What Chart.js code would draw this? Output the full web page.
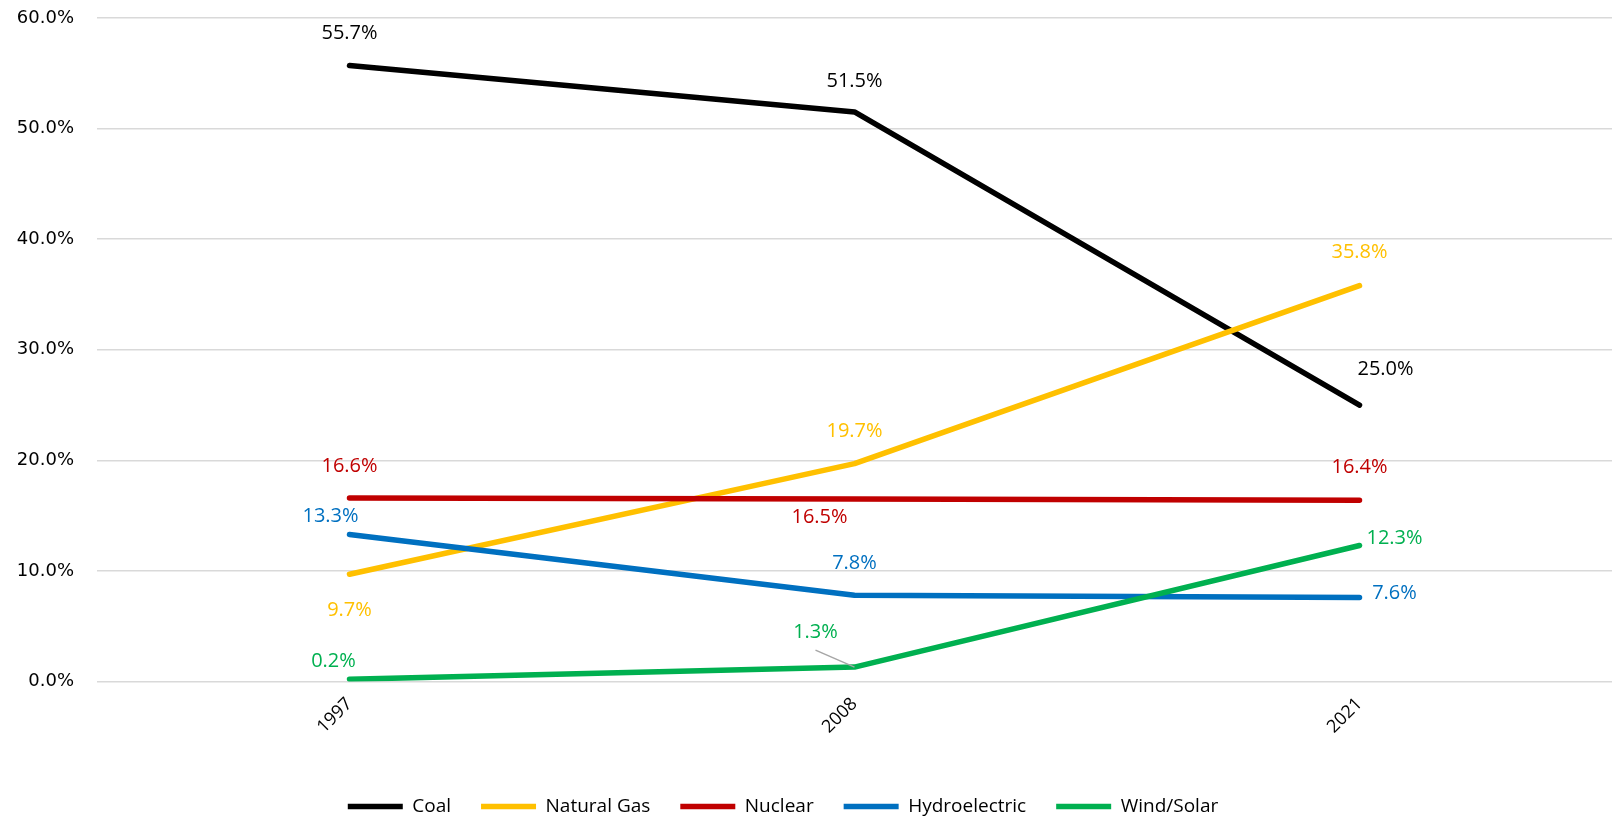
<!DOCTYPE html>
<html>
<head>
<meta charset="utf-8">
<script src="https://cdn.jsdelivr.net/npm/chart.js@4.4.1/dist/chart.umd.min.js"></script>
<style>
    html, body { margin: 0; padding: 0; background: #fff; }
    #wrap { position: relative; width: 1615px; height: 820px; }
</style>
</head>
<body>
<div id="wrap"><canvas id="chart"></canvas></div>
<script>
// Données
var years = ['1997', '2008', '2021'];
var coal = [55.7, 51.5, 25.0];
var naturalGas = [9.7, 19.7, 35.8];
var nuclear = [16.6, 16.5, 16.4];
var hydroelectric = [13.3, 7.8, 7.6];
var windSolar = [0.2, 1.3, 12.3];
var yTicks = [0, 10, 20, 30, 40, 50, 60];

// Plugin simple pour les étiquettes de données
var valueLabels = {
    id: 'valueLabels',
    afterLayout: function(chart) {
        // décaler la légende comme dans l'original
        var lg = chart.legend;
        if (lg) {
            lg.left -= 23; lg.right -= 23;
            lg.top += 10; lg.bottom += 10;
        }
    },
    afterDatasetsDraw: function(chart) {
        var ctx = chart.ctx;
        chart.data.datasets.forEach(function(ds, i) {
            var meta = chart.getDatasetMeta(i);
            meta.data.forEach(function(pt, j) {
                var off = ds.labelOffsets[j];
                var x = pt.x + off[0];
                var y = pt.y + off[1];
                ctx.save();
                if (ds.leader && ds.leader[j]) {
                    ctx.strokeStyle = '#a6a6a6';
                    ctx.lineWidth = 1.5;
                    ctx.beginPath();
                    ctx.moveTo(x, y + 18);
                    ctx.lineTo(pt.x, pt.y);
                    ctx.stroke();
                }
                ctx.font = '20px "Open Sans"';
                ctx.fillStyle = ds.borderColor;
                ctx.textAlign = 'center';
                ctx.textBaseline = 'middle';
                ctx.fillText(ds.data[j].toFixed(1) + '%', x, y);
                ctx.restore();
            });
        });
    }
};

function makeSet(label, data, color, offsets, order, leader) {
    return {
        label: label,
        data: data,
        borderColor: color,
        backgroundColor: color,
        borderWidth: 5.5,
        borderCapStyle: 'round',
        borderJoinStyle: 'round',
        pointRadius: 0,
        pointHoverRadius: 0,
        tension: 0,
        order: order,
        labelOffsets: offsets,
        leader: leader
    };
}

var ctx = document.getElementById('chart').getContext('2d');
new Chart(ctx, {
    type: 'line',
    data: {
        labels: years,
        datasets: [
            makeSet('Coal', coal, '#000000', [[0, -32], [0, -31], [26, -36]], 5),
            makeSet('Natural Gas', naturalGas, '#FFC000', [[0, 36], [0, -32], [0, -33]], 4),
            makeSet('Nuclear', nuclear, '#C00000', [[0, -32], [-35, 18], [0, -33]], 3),
            makeSet('Hydroelectric', hydroelectric, '#0070C0', [[-19, -18], [0, -32], [35, -4]], 2),
            makeSet('Wind/Solar', windSolar, '#00B050', [[-16, -18], [-39, -35], [35, -7]], 1, [false, true, false])
        ]
    },
    options: {
        responsive: true,
        maintainAspectRatio: false,
        animation: false,
        layout: {
            padding: { top: 18, right: 3, left: 0, bottom: 4 }
        },
        scales: {
            x: {
                offset: true,
                grid: { display: false, drawTicks: false },
                border: { display: false },
                ticks: {
                    minRotation: 45,
                    maxRotation: 45,
                    padding: 12,
                    color: '#000',
                    font: { family: 'Open Sans', size: 18 }
                },
                afterFit: function(scale) { scale.height = 75.5; }
            },
            y: {
                min: 0,
                max: 60,
                afterBuildTicks: function(scale) {
                    scale.ticks = yTicks.map(function(v) { return { value: v }; });
                },
                grid: { color: '#d9d9d9', lineWidth: 1.5, drawTicks: false },
                border: { display: false },
                ticks: {
                    padding: 23,
                    color: '#000',
                    font: { family: 'DejaVu Sans', size: 18 },
                    callback: function(v) { return v.toFixed(1) + '%'; }
                },
                afterFit: function(scale) {
                    scale.width = 97;
                    scale.paddingTop = 0;
                    scale.paddingBottom = 0;
                }
            }
        },
        plugins: {
            legend: {
                position: 'bottom',
                labels: {
                    usePointStyle: true,
                    pointStyle: 'line',
                    pointStyleWidth: 55,
                    padding: 30,
                    color: '#000',
                    font: { family: 'Open Sans', size: 19 },
                    sort: function(a, b) { return a.datasetIndex - b.datasetIndex; }
                }
            },
            tooltip: { enabled: false }
        }
    },
    plugins: [valueLabels]
});
</script>
</body>
</html>
